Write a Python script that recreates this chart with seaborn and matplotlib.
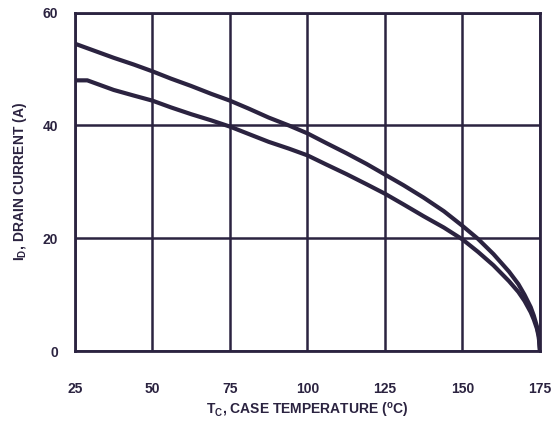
import numpy as np
import pandas as pd
import matplotlib
matplotlib.use("Agg")
import matplotlib.pyplot as plt
import seaborn as sns

# Values
temp_upper = [25, 31, 37.5, 44, 50, 56, 62.5, 69, 75, 81, 87.5, 94, 100, 106, 112.5, 119, 125,
              131, 137.5, 144, 150, 155, 160, 165, 168, 170, 172, 173, 174, 174.6, 175]
current_upper = [54.5, 53.3, 52.0, 50.8, 49.6, 48.3, 47.0, 45.6, 44.4, 43.0, 41.4, 40.0, 38.6, 36.9, 35.1,
                 33.2, 31.3, 29.4, 27.2, 24.8, 22.2, 19.9, 17.2, 14.1, 11.9, 10.0, 7.8, 6.3, 4.4, 2.8, 0.0]

temp_lower = [25, 29, 31, 37.5, 44, 50, 56, 62.5, 69, 75, 81, 87.5, 94, 100, 106, 112.5, 119, 125,
              131, 137.5, 144, 150, 155, 160, 165, 168, 170, 172, 173, 174, 174.6, 175]
current_lower = [48.0, 48.0, 47.6, 46.3, 45.3, 44.4, 43.2, 42.0, 40.9, 39.8, 38.5, 37.1, 35.9, 34.7, 33.1,
                 31.4, 29.6, 27.9, 26.0, 23.9, 21.9, 19.8, 17.6, 15.2, 12.4, 10.5, 8.9, 6.9, 5.6, 4.0, 2.5, 0.0]

x_ticks = [25, 50, 75, 100, 125, 150, 175]
y_ticks = [0, 20, 40, 60]

ink = "#2b2340"

sns.set_style("white")
plt.rcParams["font.family"] = ["Liberation Sans", "DejaVu Sans"]
plt.rcParams["font.weight"] = "bold"
plt.rcParams["mathtext.fontset"] = "custom"
plt.rcParams["mathtext.rm"] = "Liberation Sans:bold"
plt.rcParams["mathtext.it"] = "Liberation Sans:bold"
plt.rcParams["mathtext.bf"] = "Liberation Sans:bold"
plt.rcParams["mathtext.default"] = "rm"

df = pd.concat([
    pd.DataFrame({"T": temp_upper, "I": current_upper, "curve": "upper"}),
    pd.DataFrame({"T": temp_lower, "I": current_lower, "curve": "lower"}),
])

fig = plt.figure(figsize=(5.59, 4.22), dpi=100)
ax = fig.add_axes([0.134, 0.168, 0.832, 0.802])

sns.lineplot(data=df, x="T", y="I", units="curve", estimator=None, sort=False,
             color=ink, linewidth=3.0, ax=ax, legend=False,
             solid_joinstyle="round", solid_capstyle="round")

ax.set_xlim(25, 175)
ax.set_ylim(0, 60)
ax.set_xticks(x_ticks)
ax.set_yticks(y_ticks)
ax.grid(True, color=ink, linewidth=1.8)
for s in ax.spines.values():
    s.set_color(ink)
    s.set_linewidth(2)
    s.set_visible(True)
ax.tick_params(axis="x", length=0, pad=22, labelsize=10, labelcolor=ink)
ax.tick_params(axis="y", length=0, pad=12, labelsize=10, labelcolor=ink)
for lab in ax.get_xticklabels() + ax.get_yticklabels():
    lab.set_fontweight("bold")

ax.set_xlabel(r"T$_{C}$, CASE TEMPERATURE ($^{o}$C)", fontsize=10, fontweight="bold",
              color=ink, labelpad=4)
ax.set_ylabel(r"I$_{D}$, DRAIN CURRENT (A)", fontsize=10, fontweight="bold",
              color=ink, labelpad=10)

fig.savefig("out.png", dpi=100)
